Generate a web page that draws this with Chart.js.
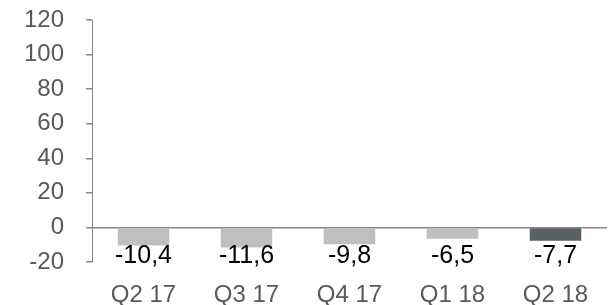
<!DOCTYPE html>
<html>
<head>
<meta charset="utf-8">
<script src="https://cdn.jsdelivr.net/npm/chart.js@4"></script>
<style>
  html, body { margin: 0; padding: 0; background: #fff; }
  #wrap { width: 610px; height: 305px; }
</style>
</head>
<body>
<div id="wrap"><canvas id="quarterChart"></canvas></div>
<script>
var quarters = ['Q2 17', 'Q3 17', 'Q4 17', 'Q1 18', 'Q2 18'];
var changeValues = [-10.4, -11.6, -9.8, -6.5, -7.7];
var barColors = ['#bfbfbf', '#bfbfbf', '#bfbfbf', '#bfbfbf', '#596163'];
var yMin = -20, yMax = 120, yStep = 20;

var fontFamily = "'Liberation Sans', Arial, sans-serif";

// values written under each bar, comma as decimal mark
var valueLabels = {
    id: 'valueLabels',
    afterDatasetsDraw: function(chart) {
        var ctx = chart.ctx;
        var yScale = chart.scales.y;
        var meta = chart.getDatasetMeta(0);
        ctx.save();
        ctx.font = '25px ' + fontFamily;
        ctx.fillStyle = '#000';
        ctx.textAlign = 'center';
        ctx.textBaseline = 'middle';
        meta.data.forEach(function(bar, i) {
            var txt = changeValues[i].toFixed(1).replace('.', ',');
            ctx.fillText(txt, bar.x, yScale.getPixelForValue(-16.8));
        });
        ctx.restore();
    }
};

document.addEventListener('DOMContentLoaded', function() {
    var chartCtx = document.getElementById('quarterChart').getContext('2d');
    var quarterChart = new Chart(chartCtx, {
        type: 'bar',
        data: {
            labels: quarters,
            datasets: [{
                data: changeValues,
                backgroundColor: barColors,
                borderWidth: 0,
                categoryPercentage: 1,
                barPercentage: 0.5
            }]
        },
        options: {
            responsive: true,
            maintainAspectRatio: false,
            animation: false,
            layout: {
                padding: { top: 20, right: 3, left: 0, bottom: 0 }
            },
            plugins: {
                legend: { display: false },
                tooltip: { enabled: false }
            },
            scales: {
                x: {
                    border: { display: false },
                    grid: { display: false },
                    afterFit: function(s) { s.height = 43; },
                    ticks: {
                        color: '#595959',
                        padding: 11,
                        font: { size: 24, family: fontFamily }
                    }
                },
                y: {
                    min: yMin,
                    max: yMax,
                    afterFit: function(s) { s.width = 92; s.paddingTop = 0; s.paddingBottom = 0; },
                    border: { display: true, color: '#868686', width: 1 },
                    grid: {
                        color: function(c) { return c.tick && c.tick.value === 0 ? '#868686' : 'rgba(0,0,0,0)'; },
                        lineWidth: 1.5,
                        tickColor: '#868686',
                        tickLength: 6,
                        drawOnChartArea: true
                    },
                    ticks: {
                        stepSize: yStep,
                        autoSkip: false,
                        color: '#595959',
                        padding: 22,
                        font: { size: 24, family: fontFamily }
                    }
                }
            }
        },
        plugins: [valueLabels]
    });
});
</script>
</body>
</html>
